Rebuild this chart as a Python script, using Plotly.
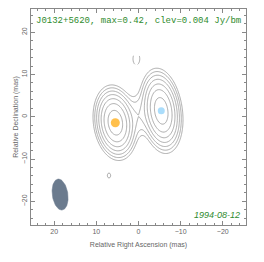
import numpy as np
import plotly.graph_objects as go

# ---- data ----
source_name = "J0132+5620"
peak_max = 0.42          # Jy/bm
clev = 0.004             # Jy/bm
obs_date = "1994-08-12"

# model components (RA offset mas, Dec offset mas, peak Jy/bm, sigma minor, sigma major, PA deg)
comp_x = [5.5, -5.4, 0.0, 0.5, 7.0]
comp_y = [-1.4, 1.4, 0.3, 13.7, -13.9]
comp_peak = [0.42, 0.40, 0.013, -0.006, 0.0045]
comp_smin = [1.7, 1.65, 2.0, 0.9, 0.8]
comp_smaj = [2.95, 3.35, 2.8, 1.6, 1.2]
comp_pa = [8.0, 8.0, 0.0, 0.0, 0.0]

# marked components
mark_x = [5.5, -5.4]
mark_y = [-1.4, 1.4]
mark_color = ["#FFA500", "#87CEFA"]
mark_size = [9, 7]

# restoring beam
beam_x, beam_y = 18.6, -18.4
beam_major, beam_minor, beam_pa = 7.4, 3.7, 8.0

n_levels = 7

# ---- build the image ----
g = np.arange(-26, 26.01, 0.2)
X, Y = np.meshgrid(g, g)
img = np.zeros_like(X)
for x0, y0, p, smin, smaj, pa in zip(comp_x, comp_y, comp_peak, comp_smin, comp_smaj, comp_pa):
    t = np.radians(pa)
    dx, dy = X - x0, Y - y0
    u = dx * np.sin(t) + dy * np.cos(t)
    v = dx * np.cos(t) - dy * np.sin(t)
    img += p * np.exp(-0.5 * (u**2 / smaj**2 + v**2 / smin**2))

pos = np.log2(np.maximum(img, 1e-7) / clev)
neg = np.log2(np.maximum(-img, 1e-7) / clev)

gray = "#a0a0a0"
flat = [[0, gray], [1, gray]]
fig = go.Figure()
fig.add_trace(go.Contour(
    x=g, y=g, z=pos, contours=dict(coloring="lines", start=0, end=n_levels - 1, size=1),
    colorscale=flat, line=dict(width=0.9), showscale=False, hoverinfo="skip", line_smoothing=1))
fig.add_trace(go.Contour(
    x=g, y=g, z=neg, contours=dict(coloring="lines", start=0, end=0, size=1),
    colorscale=flat, line=dict(width=0.9, dash="dash"), showscale=False, hoverinfo="skip"))

# beam ellipse
tt = np.linspace(0, 2 * np.pi, 100)
pa = np.radians(beam_pa)
uu = beam_major / 2 * np.cos(tt)
vv = beam_minor / 2 * np.sin(tt)
fig.add_trace(go.Scatter(
    x=beam_x + uu * np.sin(pa) + vv * np.cos(pa),
    y=beam_y + uu * np.cos(pa) - vv * np.sin(pa),
    fill="toself", fillcolor="#6b7b8e", mode="lines", line=dict(color="#6b7b8e", width=0.5),
    hoverinfo="skip", showlegend=False))

fig.add_trace(go.Scatter(x=mark_x, y=mark_y, mode="markers",
                         marker=dict(color=mark_color, size=mark_size, line=dict(width=0)),
                         showlegend=False))

axis_common = dict(
    dtick=10, tick0=0, ticks="inside", ticklen=4, tickcolor="#888", tickwidth=1,
    showline=True, linecolor="#888", linewidth=1, mirror="ticks",
    minor=dict(ticks="inside", dtick=2, ticklen=2, tickcolor="#888"),
    showgrid=False, zeroline=False, automargin=False,
    tickfont=dict(family="Liberation Sans", size=7, color="#666"),
)
# the page body adds an 8 px offset, so margins are reduced accordingly
fig.update_layout(
    width=256, height=254, margin=dict(l=23, r=18, t=1, b=37),
    plot_bgcolor="white", paper_bgcolor="white", showlegend=False,
    xaxis=dict(range=[25.5, -25.5], **axis_common,
               title=dict(text="Relative Right Ascension (mas)", standoff=7,
                          font=dict(family="Liberation Sans", size=7, color="#666"))),
    yaxis=dict(range=[-25.6, 25.5], tickangle=-90, **axis_common,
               title=dict(text="Relative Declination (mas)", standoff=1,
                          font=dict(family="Liberation Sans", size=7, color="#666"))),
    annotations=[
        dict(text=f"{source_name}, max={peak_max}, clev={clev} Jy/bm", xref="paper", yref="paper",
             x=0.5, y=0.946, xanchor="center", yanchor="middle", showarrow=False,
             font=dict(family="Liberation Mono", size=9, color="#2e8b2e")),
        dict(text=obs_date, xref="paper", yref="paper", x=0.98, y=0.045,
             xanchor="right", yanchor="middle", showarrow=False,
             font=dict(family="Liberation Sans", size=9, color="#2e8b2e", style="italic")),
    ],
)
fig.write_html("out.html")
